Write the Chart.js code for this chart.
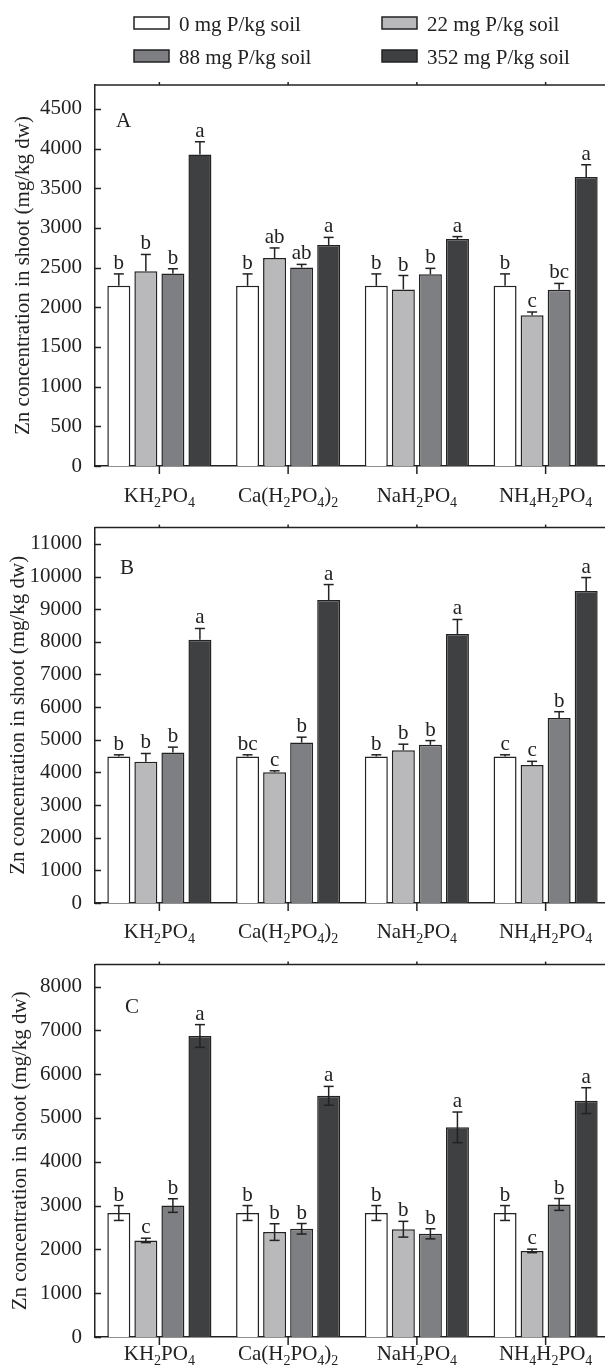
<!DOCTYPE html>
<html>
<head>
<meta charset="utf-8">
<script src="https://cdn.jsdelivr.net/npm/chart.js@4.4.1/dist/chart.umd.min.js"></script>
<style>
  html, body { margin: 0; padding: 0; background: #fff; overflow: hidden; width: 605px; height: 1370px; }
  canvas { position: absolute; left: 0; }
</style>
</head>
<body>
<canvas id="chartA" width="610" height="510" style="top:0px"></canvas>
<canvas id="chartB" width="610" height="437" style="top:510px"></canvas>
<canvas id="chartC" width="610" height="423" style="top:947px"></canvas>
<script>
// categories and series
const categories = ['KH2PO4', 'Ca(H2PO4)2', 'NaH2PO4', 'NH4H2PO4'];
const seriesNames = ['0 mg P/kg soil', '22 mg P/kg soil', '88 mg P/kg soil', '352 mg P/kg soil'];

// panel A
const a0 = [2270, 2270, 2270, 2270];
const a22 = [2455, 2620, 2225, 1900];
const a88 = [2425, 2500, 2415, 2220];
const a352 = [3925, 2785, 2860, 3640];
const a0Err = [150, 150, 150, 150];
const a22Err = [210, 127, 175, 40];
const a88Err = [60, 40, 75, 80];
const a352Err = [160, 95, 30, 155];
const a0Let = ['b', 'b', 'b', 'b'];
const a22Let = ['b', 'ab', 'b', 'c'];
const a88Let = ['b', 'ab', 'b', 'bc'];
const a352Let = ['a', 'a', 'a', 'a'];
const aTicks = [0, 500, 1000, 1500, 2000, 2500, 3000, 3500, 4000, 4500];

// panel B
const b0 = [4490, 4490, 4490, 4490];
const b22 = [4330, 4005, 4680, 4230];
const b88 = [4610, 4915, 4845, 5670];
const b352 = [8065, 9280, 8240, 9555];
const b0Err = [50, 50, 50, 50];
const b22Err = [250, 45, 185, 110];
const b88Err = [165, 165, 130, 190];
const b352Err = [345, 475, 445, 415];
const b0Let = ['b', 'bc', 'b', 'c'];
const b22Let = ['b', 'c', 'b', 'c'];
const b88Let = ['b', 'b', 'b', 'b'];
const b352Let = ['a', 'a', 'a', 'a'];
const bTicks = [0, 1000, 2000, 3000, 4000, 5000, 6000, 7000, 8000, 9000, 10000, 11000];

// panel C
const c0 = [2830, 2830, 2830, 2830];
const c22 = [2205, 2395, 2460, 1965];
const c88 = [3000, 2470, 2355, 3025];
const c352 = [6870, 5505, 4785, 5395];
const c0Err = [170, 170, 170, 170];
const c22Err = [50, 190, 180, 40];
const c88Err = [155, 120, 115, 135];
const c352Err = [260, 215, 350, 295];
const c0Let = ['b', 'b', 'b', 'b'];
const c22Let = ['c', 'b', 'b', 'c'];
const c88Let = ['b', 'b', 'b', 'b'];
const c352Let = ['a', 'a', 'a', 'a'];
const cTicks = [0, 1000, 2000, 3000, 4000, 5000, 6000, 7000, 8000];

const fills = ['#ffffff', '#b9b9bb', '#7e7f83', '#3f4042'];
const ink = '#222222';
const serif = "'Liberation Serif', 'Times New Roman', serif";
const yTitle = 'Zn concentration in shoot (mg/kg dw)';

Chart.defaults.font.family = serif;
Chart.defaults.font.size = 21;
Chart.defaults.color = ink;

function line(ctx, x1, y1, x2, y2) {
  ctx.beginPath(); ctx.moveTo(x1, y1); ctx.lineTo(x2, y2); ctx.stroke();
}

// draw formula with digits as subscripts, centred on cx
function drawFormula(ctx, text, cx, baseline) {
  const runs = text.match(/\d+|\D+/g);
  const big = '21px ' + serif, small = '14px ' + serif;
  let w = 0;
  runs.forEach(r => { ctx.font = /\d/.test(r) ? small : big; w += ctx.measureText(r).width; });
  let x = cx - w / 2;
  ctx.textAlign = 'left';
  ctx.textBaseline = 'alphabetic';
  runs.forEach(r => {
    const sub = /\d/.test(r);
    ctx.font = sub ? small : big;
    ctx.fillText(r, x, sub ? baseline + 5 : baseline);
    x += ctx.measureText(r).width;
  });
}

const decor = {
  id: 'decor',
  afterDatasetsDraw(chart, args, o) {
    const ctx = chart.ctx, area = chart.chartArea;
    const xs = chart.scales.x, ys = chart.scales.y;
    ctx.save();
    ctx.strokeStyle = ink;
    ctx.fillStyle = ink;
    ctx.lineWidth = 1.5;
    line(ctx, area.left, area.top, area.right, area.top);
    ys.ticks.forEach(t => {
      const py = Math.round(ys.getPixelForValue(t.value)) + 0.5;
      line(ctx, area.left, py, area.left + 6, py);
    });
    categories.forEach((c, i) => {
      const px = xs.getPixelForValue(i);
      line(ctx, px, area.bottom, px, area.bottom + 8);
      line(ctx, px, area.top, px, area.top - 3);
      drawFormula(ctx, c, px, area.bottom + o.labelOffset);
    });
    // error bars and letters
    chart.data.datasets.forEach((ds, di) => {
      chart.getDatasetMeta(di).data.forEach((bar, i) => {
        const v = ds.data[i], e = ds.errors[i];
        const top = ys.getPixelForValue(v + e);
        const bot = o.both ? ys.getPixelForValue(v - e) : bar.y;
        ctx.lineWidth = 1.5;
        line(ctx, bar.x, bot, bar.x, top);
        line(ctx, bar.x - 5, top, bar.x + 5, top);
        if (o.both) line(ctx, bar.x - 5, bot, bar.x + 5, bot);
        ctx.font = '21px ' + serif;
        ctx.textAlign = 'center';
        ctx.textBaseline = 'alphabetic';
        ctx.fillText(ds.letters[i], bar.x, top - 5);
      });
    });
    // panel letter
    ctx.font = '21px ' + serif;
    ctx.textAlign = 'left';
    ctx.fillText(o.panel, o.panelX, area.top + o.panelDy);
    // legend
    if (o.legend) {
      const cols = [134, 382], rows = [23, 56];
      chart.data.datasets.forEach((ds, di) => {
        const bx = cols[di % 2], by = rows[Math.floor(di / 2)];
        ctx.fillStyle = ds.backgroundColor;
        ctx.fillRect(bx, by - 6, 35, 12);
        ctx.strokeStyle = ink;
        ctx.lineWidth = 1.5;
        ctx.strokeRect(bx, by - 6, 35, 12);
        ctx.fillStyle = ink;
        ctx.font = '21px ' + serif;
        ctx.textAlign = 'left';
        ctx.fillText(ds.label, bx + 45, by + 8);
      });
    }
    ctx.restore();
  }
};

function makeChart(id, values, errs, letters, yMax, tickValues, opts) {
  return new Chart(document.getElementById(id), {
    type: 'bar',
    data: {
      labels: categories,
      datasets: values.map((vals, i) => ({
        label: seriesNames[i],
        data: vals,
        errors: errs[i],
        letters: letters[i],
        backgroundColor: fills[i],
        borderColor: ink,
        borderWidth: 1.5,
        categoryPercentage: 0.84,
        barPercentage: 0.85
      }))
    },
    options: {
      responsive: false,
      animation: false,
      layout: { padding: { top: opts.padTop, left: 0, right: 0, bottom: 0 } },
      plugins: {
        legend: { display: false },
        tooltip: { enabled: false },
        decor: opts
      },
      scales: {
        x: {
          grid: { display: false },
          ticks: { display: false },
          border: { display: true, color: ink, width: 1.5 },
          afterFit: s => { s.height = opts.xHeight; }
        },
        y: {
          min: 0,
          max: yMax,
          grid: { display: false },
          border: { display: true, color: ink, width: 1.5 },
          ticks: { padding: 5, callback: v => String(v) },
          afterBuildTicks: s => { s.ticks = tickValues.map(v => ({ value: v })); },
          title: { display: true, text: yTitle, padding: { top: opts.titlePad, bottom: 0 } },
          afterFit: s => { s.width = 95; }
        }
      }
    },
    plugins: [decor]
  });
}

makeChart('chartA', [a0, a22, a88, a352], [a0Err, a22Err, a88Err, a352Err],
  [a0Let, a22Let, a88Let, a352Let], 4800, aTicks,
  { padTop: 85, xHeight: 44, labelOffset: 36, both: false, panel: 'A', panelX: 116, panelDy: 42, legend: true, titlePad: 11 });
makeChart('chartB', [b0, b22, b88, b352], [b0Err, b22Err, b88Err, b352Err],
  [b0Let, b22Let, b88Let, b352Let], 11500, bTicks,
  { padTop: 16, xHeight: 44, labelOffset: 35, both: false, panel: 'B', panelX: 120, panelDy: 46, legend: false, titlePad: 6 });
makeChart('chartC', [c0, c22, c88, c352], [c0Err, c22Err, c88Err, c352Err],
  [c0Let, c22Let, c88Let, c352Let], 8500, cTicks,
  { padTop: 12, xHeight: 33, labelOffset: 23, both: true, panel: 'C', panelX: 125, panelDy: 48, legend: false, titlePad: 8 });
</script>
</body>
</html>
